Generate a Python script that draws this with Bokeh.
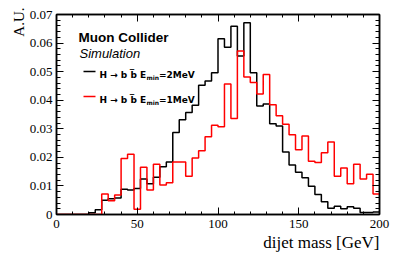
import numpy as np
from bokeh.plotting import figure
from bokeh.models import (Range1d, LinearAxis, SingleIntervalTicker,
                          CustomJSTickFormatter, Label, Arrow, Title)
from bokeh.embed import file_html
from bokeh.resources import INLINE

# ---- data ----
bin_lo, bin_hi, n_bins = 0.0, 200.0, 50

# H -> b bbar, E_min = 2 MeV (black)
h_2mev = [0, 0, 0, 0, 0,
          0.0006, 0.0017, 0.0050, 0.0055, 0.0058,
          0.0088, 0.0086, 0.0091, 0.0124, 0.0108,
          0.0130, 0.0167, 0.0184, 0.0287, 0.0332,
          0.0357, 0.0382, 0.0452, 0.0467, 0.0496,
          0.0615, 0.0585, 0.0659, 0.0555, 0.0671,
          0.0496, 0.0380, 0.0387, 0.0318, 0.0310,
          0.0219, 0.0173, 0.0148, 0.0129, 0.0099,
          0.0070, 0.0045, 0.0022, 0.0029, 0.0020,
          0.0027, 0.0022, 0.0007, 0.0007, 0.0009]

# H -> b bbar, E_min = 1 MeV (red)
h_1mev = [0, 0, 0, 0, 0,
          0, 0, 0.0072, 0.0048, 0.0068,
          0.0196, 0.0211, 0.0018, 0.0165, 0.0086,
          0.0176, 0.0103, 0.0111, 0.0184, 0.0184,
          0.0134, 0.0198, 0.0223, 0.0272, 0.0312,
          0.0307, 0.0457, 0.0336, 0.0572, 0.0481,
          0.0462, 0.0422, 0.0490, 0.0384, 0.0346,
          0.0316, 0.0279, 0.0227, 0.0275, 0.0186,
          0.0182, 0.0216, 0.0254, 0.0134, 0.0163,
          0.0108, 0.0176, 0.0124, 0.0141, 0.0072]

x_tick_step = 50
y_tick_step = 0.01
x_title = "dijet mass [GeV]"
y_title = "A.U."
label_2 = "=2MeV"
label_1 = "=1MeV"

edges = np.linspace(bin_lo, bin_hi, n_bins + 1)

SERIF = "Liberation Serif"
SANS = "Liberation Sans"
LEG = "DejaVu Sans"

p = figure(width=399, height=256, output_backend="svg", toolbar_location=None,
           x_range=Range1d(bin_lo, bin_hi), y_range=Range1d(0, 0.07),
           min_border_left=56, min_border_right=20, min_border_top=14,
           min_border_bottom=42)
p.xgrid.visible = False
p.ygrid.visible = False
p.background_fill_color = "white"
p.border_fill_color = "white"
p.outline_line_color = "black"
p.outline_line_width = 1.5

# histograms as step outlines
p.step(x=edges, y=list(h_2mev) + [h_2mev[-1]], mode="after",
       line_color="black", line_width=1.5)
p.step(x=edges, y=list(h_1mev) + [h_1mev[-1]], mode="after",
       line_color="#ff0000", line_width=1.5)

def style_axis(ax, ticker, show_labels, major_in, minor_in):
    ax.ticker = ticker
    ax.axis_line_color = "black"
    ax.axis_line_width = 1.5
    ax.major_tick_line_color = "black"
    ax.minor_tick_line_color = "black"
    ax.major_tick_line_width = 1
    ax.minor_tick_line_width = 1
    ax.major_tick_in = major_in
    ax.major_tick_out = 0
    ax.minor_tick_in = minor_in
    ax.minor_tick_out = 0
    if show_labels:
        ax.major_label_text_font = SERIF
        ax.major_label_text_font_size = "13px"
        ax.major_label_text_color = "black"
    else:
        ax.formatter = CustomJSTickFormatter(code="return '';")
        ax.major_label_text_font_size = "1px"
        ax.major_label_standoff = 0

xt = lambda: SingleIntervalTicker(interval=x_tick_step, num_minor_ticks=5)
yt = lambda: SingleIntervalTicker(interval=y_tick_step, num_minor_ticks=5)

style_axis(p.xaxis[0], xt(), True, 7, 3)
p.xaxis[0].major_label_standoff = 5
style_axis(p.yaxis[0], yt(), True, 7, 4)
p.yaxis[0].major_label_standoff = 4
p.yaxis[0].formatter = CustomJSTickFormatter(
    code="return Math.abs(tick) < 1e-9 ? '0' : tick.toFixed(2);")

top_ax = LinearAxis()
style_axis(top_ax, xt(), False, 7, 3)
p.add_layout(top_ax, "above")
right_ax = LinearAxis()
style_axis(right_ax, yt(), False, 7, 4)
p.add_layout(right_ax, "right")

# axis titles (ROOT style: aligned to the far end of the axis)
p.add_layout(Title(text=x_title, align="right", text_font=SERIF,
                   text_font_size="17px", text_font_style="normal",
                   text_color="black", standoff=0, offset=0), "below")
p.add_layout(Title(text=y_title, align="right", text_font=SERIF,
                   text_font_size="15px", text_font_style="normal",
                   text_color="black", standoff=0, offset=-7), "left")

def put(text, sx, sy, font=SANS, size="10px", style="bold", align="left",
        baseline="alphabetic"):
    p.add_layout(Label(x=sx, y=sy, x_units="screen", y_units="screen",
                       text=text, text_font=font, text_font_size=size,
                       text_font_style=style, text_align=align,
                       text_baseline=baseline, text_color="black"))

# header
put("Muon Collider", 22, 177, size="13.5px", style="bold")
put("Simulation", 23, 161, size="13px", style="italic")

# legend
rows = [(143, "black", label_2), (118, "#ff0000", label_1)]
for ly, col, tail in rows:
    p.add_layout(Arrow(end=None, x_start=27, y_start=ly, x_end=39, y_end=ly,
                       start_units="screen", end_units="screen",
                       line_color=col, line_width=1.5))
    put("H \u2192 b b\u0305 E", 43, ly - 3, font=LEG, size="9px")
    put("min", 90, ly - 5.5, font=LEG, size="6px")
    put(tail, 102.5, ly - 3, font=LEG, size="9px")

open("out.html", "w").write(file_html(p, INLINE))
